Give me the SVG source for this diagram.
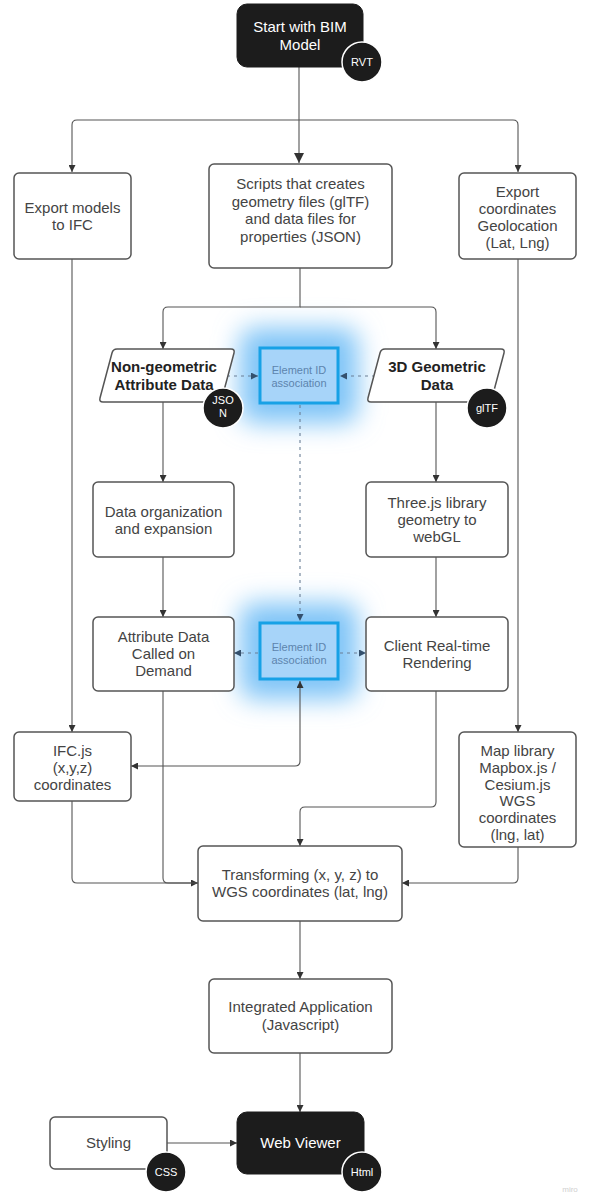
<svg xmlns="http://www.w3.org/2000/svg" width="590" height="1196" viewBox="0 0 590 1196">
  <style>
    .box { fill: #ffffff; stroke: #555555; stroke-width: 1.5; }
    .dark { fill: #1c1c1c; stroke: #1c1c1c; stroke-width: 1; }
    .badge { fill: #1c1c1c; stroke: #ffffff; stroke-width: 1.5; }
    .idbox { fill: #a7d4f9; stroke: #17a1e6; stroke-width: 3; }
    .glow { fill: #7fc4f7; }
    .t { font-family: "Liberation Sans", Arial, sans-serif; font-size: 15px; fill: #444444; text-anchor: middle; }
    .tb { font-family: "Liberation Sans", Arial, sans-serif; font-size: 15px; font-weight: bold; fill: #222222; text-anchor: middle; }
    .tw { font-family: "Liberation Sans", Arial, sans-serif; font-size: 15px; fill: #ffffff; text-anchor: middle; }
    .ts { font-family: "Liberation Sans", Arial, sans-serif; font-size: 11px; fill: #ffffff; text-anchor: middle; }
    .tid { font-family: "Liberation Sans", Arial, sans-serif; font-size: 11px; fill: #5d84ad; text-anchor: middle; }
    .line { fill: none; stroke: #555555; stroke-width: 1.1; }
    .dot { fill: none; stroke: #6a7f96; stroke-width: 1.1; stroke-dasharray: 3 4; }
  </style>
  <defs>
    <marker id="arr" viewBox="0 0 10 10" refX="10" refY="5" markerWidth="7" markerHeight="7" markerUnits="userSpaceOnUse" orient="auto-start-reverse">
      <path d="M0,0 L10,5 L0,10 z" fill="#333333"/>
    </marker>
    <marker id="arrBig" viewBox="0 0 10 10" refX="10" refY="5" markerWidth="10" markerHeight="10" markerUnits="userSpaceOnUse" orient="auto">
      <path d="M0,0 L10,5 L0,10 z" fill="#333333"/>
    </marker>
    <marker id="arrDot" viewBox="0 0 10 10" refX="10" refY="5" markerWidth="7" markerHeight="7" markerUnits="userSpaceOnUse" orient="auto">
      <path d="M0,0 L10,5 L0,10 z" fill="#34506d"/>
    </marker>
    <filter id="blur" x="-80%" y="-80%" width="260%" height="260%">
      <feGaussianBlur stdDeviation="13"/>
    </filter>
  </defs>

  <rect width="590" height="1196" fill="#ffffff"/>

  <!-- soft halos behind the two ID association boxes -->
  <rect class="glow" x="240" y="328" width="118" height="95" rx="14" filter="url(#blur)"/>
  <rect class="glow" x="240" y="603" width="118" height="96" rx="14" filter="url(#blur)"/>

  <!-- connectors -->
  <g id="connectors">
    <path class="line" d="M299,67 V163" stroke-width="1.6" marker-end="url(#arrBig)"/>
    <path class="line" d="M299,120 H77 Q72,120 72,125 V172" marker-end="url(#arr)"/>
    <path class="line" d="M299,120 H513 Q518,120 518,125 V172" marker-end="url(#arr)"/>
    <path class="line" d="M300,268 V307 H168 Q163,307 163,312 V349" marker-end="url(#arr)"/>
    <path class="line" d="M300,307 H431 Q436,307 436,312 V349" marker-end="url(#arr)"/>
    <path class="dot" d="M227,376 H258" marker-end="url(#arrDot)"/>
    <path class="dot" d="M375,376 H340" marker-end="url(#arrDot)"/>
    <path class="dot" d="M300,405 V621" marker-end="url(#arrDot)"/>
    <path class="line" d="M163,402 V482" marker-end="url(#arr)"/>
    <path class="line" d="M163,557 V617" marker-end="url(#arr)"/>
    <path class="line" d="M436,402 V482" marker-end="url(#arr)"/>
    <path class="line" d="M436,557 V617" marker-end="url(#arr)"/>
    <path class="dot" d="M258,653 H234" marker-end="url(#arrDot)"/>
    <path class="dot" d="M340,653 H366" marker-end="url(#arrDot)"/>
    <path class="line" d="M300,681 V761 Q300,766 295,766 H131" marker-start="url(#arr)" marker-end="url(#arr)"/>
    <path class="line" d="M72,259 V732" marker-end="url(#arr)"/>
    <path class="line" d="M518,259 V732" marker-end="url(#arr)"/>
    <path class="line" d="M72,801 V878 Q72,883 77,883 H198" marker-end="url(#arr)"/>
    <path class="line" d="M163,691 V878 Q163,883 168,883 H198"/>
    <path class="line" d="M436,691 V802 Q436,807 431,807 H305 Q300,807 300,812 V846" marker-end="url(#arr)"/>
    <path class="line" d="M518,847 V878 Q518,883 513,883 H402" marker-end="url(#arr)"/>
    <path class="line" d="M300,921 V979" marker-end="url(#arr)"/>
    <path class="line" d="M300,1053 V1112" marker-end="url(#arr)"/>
    <path class="line" d="M167,1143 H237" marker-end="url(#arr)"/>
  </g>

  <g id="start">
    <rect class="dark" x="237" y="4" width="126" height="63" rx="10"/>
    <text class="tw" x="300" y="32">Start with BIM</text>
    <text class="tw" x="300" y="50">Model</text>
    <circle class="badge" cx="362" cy="62" r="20"/>
    <text class="ts" x="362" y="66">RVT</text>
  </g>

  <g id="export-ifc">
    <rect class="box" x="14" y="173" width="117" height="86" rx="5"/>
    <text class="t" x="72.5" y="213">Export models</text>
    <text class="t" x="72.5" y="230">to IFC</text>
  </g>

  <g id="scripts">
    <rect class="box" x="209" y="164" width="183" height="104" rx="5"/>
    <text class="t" x="300.5" y="189">Scripts that creates</text>
    <text class="t" x="300.5" y="206.5">geometry files (glTF)</text>
    <text class="t" x="300.5" y="224">and data files for</text>
    <text class="t" x="300.5" y="241.5">properties (JSON)</text>
  </g>

  <g id="export-geo">
    <rect class="box" x="459" y="173" width="117" height="86" rx="5"/>
    <text class="t" x="517.5" y="197">Export</text>
    <text class="t" x="517.5" y="214">coordinates</text>
    <text class="t" x="517.5" y="231">Geolocation</text>
    <text class="t" x="517.5" y="248">(Lat, Lng)</text>
  </g>

  <g id="attribute-data">
    <path class="box" d="M117,349 H231 Q235,349 234,353 L222,398 Q221,402 217,402 H103 Q99,402 100,398 L112,353 Q113,349 117,349 Z"/>
    <text class="tb" x="164" y="372">Non-geometric</text>
    <text class="tb" x="164" y="390">Attribute Data</text>
    <circle class="badge" cx="223" cy="408" r="20"/>
    <text class="ts" x="223" y="404">JSO</text>
    <text class="ts" x="223" y="417">N</text>
  </g>

  <g id="id-assoc-1">
    <rect class="idbox" x="260" y="348" width="78" height="55"/>
    <text class="tid" x="299" y="374">Element ID</text>
    <text class="tid" x="299" y="387">association</text>
  </g>

  <g id="geometric-data">
    <path class="box" d="M385,349 H501 Q505,349 504,353 L492,398 Q491,402 487,402 H371 Q367,402 368,398 L380,353 Q381,349 385,349 Z"/>
    <text class="tb" x="437" y="372">3D Geometric</text>
    <text class="tb" x="437" y="390">Data</text>
    <circle class="badge" cx="487" cy="408" r="20"/>
    <text class="ts" x="487" y="412">glTF</text>
  </g>

  <g id="data-org">
    <rect class="box" x="93" y="482" width="141" height="75" rx="5"/>
    <text class="t" x="163.5" y="517">Data organization</text>
    <text class="t" x="163.5" y="534">and expansion</text>
  </g>

  <g id="threejs">
    <rect class="box" x="366" y="482" width="142" height="75" rx="5"/>
    <text class="t" x="437" y="508">Three.js library</text>
    <text class="t" x="437" y="525">geometry to</text>
    <text class="t" x="437" y="542">webGL</text>
  </g>

  <g id="attribute-demand">
    <rect class="box" x="93" y="617" width="141" height="74" rx="5"/>
    <text class="t" x="163.5" y="642">Attribute Data</text>
    <text class="t" x="163.5" y="659">Called on</text>
    <text class="t" x="163.5" y="676">Demand</text>
  </g>

  <g id="id-assoc-2">
    <rect class="idbox" x="260" y="623" width="78" height="56"/>
    <text class="tid" x="299" y="651">Element ID</text>
    <text class="tid" x="299" y="664">association</text>
  </g>

  <g id="rendering">
    <rect class="box" x="366" y="617" width="142" height="74" rx="5"/>
    <text class="t" x="437" y="651">Client Real-time</text>
    <text class="t" x="437" y="668">Rendering</text>
  </g>

  <g id="ifcjs">
    <rect class="box" x="14" y="732" width="117" height="69" rx="5"/>
    <text class="t" x="72.5" y="756">IFC.js</text>
    <text class="t" x="72.5" y="773">(x,y,z)</text>
    <text class="t" x="72.5" y="790">coordinates</text>
  </g>

  <g id="map-library">
    <rect class="box" x="459" y="732" width="117" height="115" rx="5"/>
    <text class="t" x="517.5" y="756">Map library</text>
    <text class="t" x="517.5" y="773">Mapbox.js /</text>
    <text class="t" x="517.5" y="790">Cesium.js</text>
    <text class="t" x="517.5" y="806">WGS</text>
    <text class="t" x="517.5" y="823">coordinates</text>
    <text class="t" x="517.5" y="840">(lng, lat)</text>
  </g>

  <g id="transform">
    <rect class="box" x="198" y="846" width="204" height="75" rx="5"/>
    <text class="t" x="300" y="880">Transforming (x, y, z) to</text>
    <text class="t" x="300" y="897">WGS coordinates (lat, lng)</text>
  </g>

  <g id="integrated">
    <rect class="box" x="209" y="979" width="183" height="74" rx="5"/>
    <text class="t" x="300.5" y="1012">Integrated Application</text>
    <text class="t" x="300.5" y="1030">(Javascript)</text>
  </g>

  <g id="styling">
    <rect class="box" x="50" y="1117" width="117" height="52" rx="5"/>
    <text class="t" x="108.5" y="1148">Styling</text>
    <circle class="badge" cx="166" cy="1172" r="20"/>
    <text class="ts" x="166" y="1176">CSS</text>
  </g>

  <g id="web-viewer">
    <rect class="dark" x="237" y="1112" width="127" height="62" rx="10"/>
    <text class="tw" x="300.5" y="1148">Web Viewer</text>
    <circle class="badge" cx="362" cy="1172" r="20"/>
    <text class="ts" x="362" y="1176">Html</text>
  </g>

  <text x="570" y="1192" font-family="'Liberation Sans', Arial, sans-serif" font-size="8" fill="#cfcfcf" text-anchor="middle">miro</text>
</svg>
